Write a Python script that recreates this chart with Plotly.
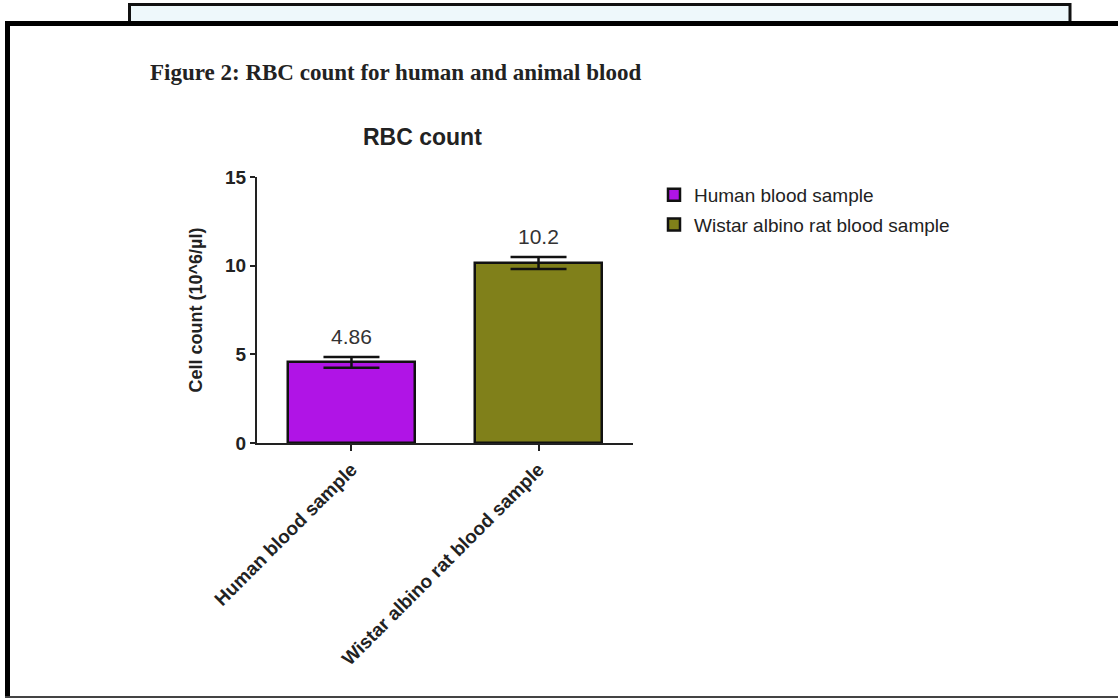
import plotly.graph_objects as go

categories = ["Human blood sample", "Wistar albino rat blood sample"]
means = [4.55, 10.15]
errors = [0.30, 0.34]
labels = ["4.86", "10.2"]
colors = ["#b014e6", "#80801a"]
yticks = [0, 5, 10, 15]

W, H = 1118, 698
L, R, T, B = 257, 633, 177, 443

def px(x):
    return (x - L) / (R - L)

def py(y):
    return (B - y) / (B - T)

fig = go.Figure()
for i, (cat, m, e, c) in enumerate(zip(categories, means, errors, colors)):
    fig.add_trace(go.Bar(
        x=[cat], y=[m], name=cat, width=0.674, legendgroup=f"g{i}",
        marker=dict(color=c, line=dict(color="#111", width=2.5)),
        error_y=dict(type="data", array=[e], color="#111", thickness=2.5, width=28),
        hoverinfo="skip",
    ))

annotations = []
for cat, m, e, lab in zip(categories, means, errors, labels):
    annotations.append(dict(x=cat, y=m + e, xref="x", yref="y", text=lab,
                            showarrow=False, yanchor="bottom", yshift=7,
                            font=dict(family="Liberation Sans", size=21, color="#333")))
annotations.append(dict(x=px(422), y=py(137), xref="paper", yref="paper", text="<b>RBC count</b>",
                        showarrow=False, xanchor="center", yanchor="middle",
                        font=dict(family="Liberation Sans", size=23, color="#222")))
annotations.append(dict(x=px(148), y=py(72), xref="paper", yref="paper",
                        text="<b>Figure 2: RBC count for human and animal blood</b>",
                        showarrow=False, xanchor="left", yanchor="middle",
                        font=dict(family="Liberation Serif", size=23, color="#222")))

shapes = [
    dict(type="rect", xref="paper", yref="paper", x0=px(129.5), x1=px(1070), y0=py(24), y1=py(4.5),
         fillcolor="#eef8fb", line=dict(color="#111", width=3), layer="below"),
    dict(type="rect", xref="paper", yref="paper", x0=px(7.5), x1=px(1130), y0=py(697), y1=py(23.5),
         fillcolor="white", line=dict(width=0), layer="below"),
    dict(type="line", xref="paper", yref="paper", x0=px(7.5), x1=px(1130), y0=py(23.5), y1=py(23.5),
         line=dict(color="#000", width=5), layer="below"),
    dict(type="line", xref="paper", yref="paper", x0=px(7.5), x1=px(7.5), y0=py(21), y1=py(698),
         line=dict(color="#000", width=5), layer="below"),
    dict(type="line", xref="paper", yref="paper", x0=px(5), x1=px(1130), y0=py(697), y1=py(697),
         line=dict(color="#444", width=2), layer="below"),
]

fig.update_layout(
    width=W, height=H,
    margin=dict(l=L, r=W - R, t=T, b=H - B, autoexpand=False),
    paper_bgcolor="white", plot_bgcolor="rgba(0,0,0,0)",
    barmode="overlay", bargap=0,
    showlegend=True,
    legend=dict(x=px(654), y=py(176), xanchor="left", yanchor="top",
                font=dict(family="Liberation Sans", size=19, color="#222"),
                bgcolor="rgba(0,0,0,0)", tracegroupgap=2),
    annotations=annotations, shapes=shapes,
    xaxis=dict(range=[-0.505, 1.505], showline=True, linecolor="#222", linewidth=2,
               ticks="outside", ticklen=6, tickwidth=2, tickcolor="#222", tickangle=-45,
               showgrid=False, zeroline=False,
               tickfont=dict(family="Liberation Sans", size=19, color="#222", weight="bold")),
    yaxis=dict(range=[0, 15], tickvals=yticks, showline=True, linecolor="#222", linewidth=2,
               ticks="outside", ticklen=5, tickwidth=2, tickcolor="#222",
               showgrid=False, zeroline=False,
               tickfont=dict(family="Liberation Sans", size=19, color="#222", weight="bold"),
               title=dict(text="<b>Cell count (10^6/µl)</b>", standoff=18,
                          font=dict(family="Liberation Sans", size=18, color="#222"))),
)

fig.write_html("out.html", config={"displayModeBar": False},
               post_script="document.body.style.margin='0';document.body.style.padding='0';")
